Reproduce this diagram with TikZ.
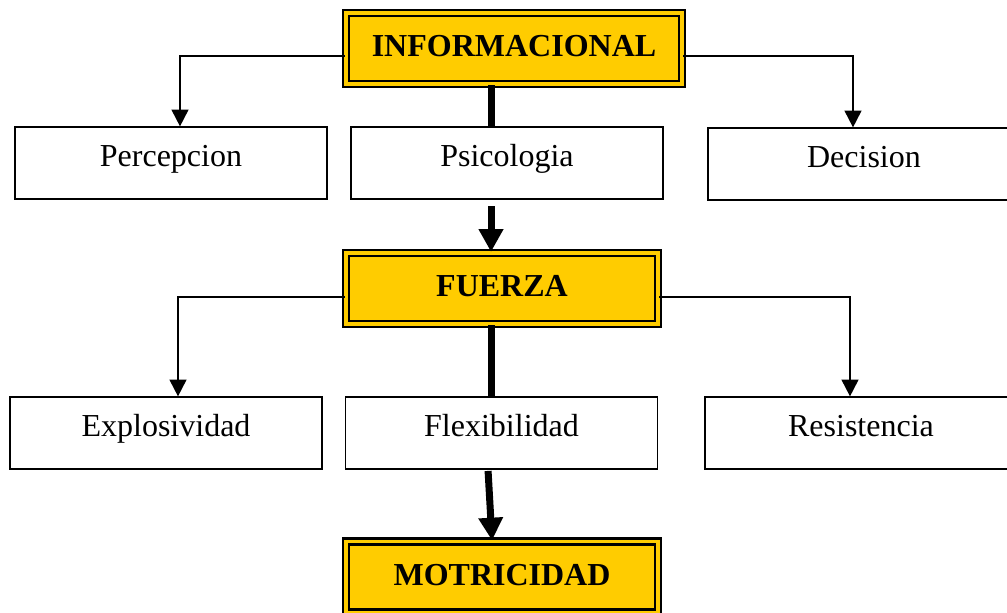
\documentclass[tikz,border=0pt]{standalone}
\usepackage{fontspec}
\setmainfont{Liberation Serif}
\usetikzlibrary{arrows.meta,calc}
\definecolor{signyellow}{HTML}{FFCC00}

\begin{document}
\begin{tikzpicture}[
        x = 0.75pt,
        y = -0.75pt,
        box/.style = {
                rectangle,
                draw,
                line width=1.4pt,
                minimum width=234pt,
                minimum height=53.5pt,
                font=\fontsize{24}{28}\selectfont,
                text height=16pt,
                text depth=10.5pt,
            },
        head/.style = {
                rectangle,
                draw,
                fill=signyellow,
                line width=1.7pt,
                double=signyellow,
                double distance=2.7pt,
                minimum height=53.25pt,
                font=\fontsize{24}{28}\selectfont\bfseries,
                text height=16pt,
                text depth=4pt,
            },
        branch/.style = {
                line width=1.4pt,
                -{Triangle[length=12.5pt,width=12.5pt]},
            },
        spine/.style = {
                line width=5.25pt,
            },
    ]
    \useasboundingbox (0,0) rectangle (1007,612);
    \clip (0,0) rectangle (1007,612);
    \node[head, minimum width=252pt] (info) at (514,48.5) {INFORMACIONAL};
    \node[head, minimum width=234pt] (fuerza) at (502,288.5) {FUERZA};
    \node[head, minimum width=234pt] (motri) at (502,577) {MOTRICIDAD};
    \foreach \name/\x/\y/\txt in {
            perc/171/163/Percepcion,
            psico/507/163/Psicologia,
            deci/864/164/Decision,
            explo/166/433/Explosividad,
            flexi/501.5/433/Flexibilidad,
            resis/861/433/Resistencia
        }
    \node[box] (\name) at (\x,\y) {\txt};
    % side branches
    \draw[branch] ($(info.west)+(0,7.5)$) -| ($(perc.north)+(9,0)$);
    \draw[branch] ($(info.east)+(0,7.5)$) -| ($(deci.north)+(-11,0)$);
    \draw[branch] ($(fuerza.west)+(0,8.5)$) -| ($(explo.north)+(12,0)$);
    \draw[branch] ($(fuerza.east)+(0,8.5)$) -| ($(resis.north)+(-11,0)$);
    % main line
    \coordinate (axis) at (491,0);
    \draw[spine] (info.south -| axis) -- (psico.north -| axis);
    \draw[spine, -{Triangle[length=17pt,width=17.5pt]}, shorten <=5pt]
    (psico.south -| axis) -- (fuerza.north -| axis);
    \draw[spine] (fuerza.south -| axis) -- (flexi.north -| axis);
    \draw[spine, -{Triangle[length=17pt,width=17.5pt]}, shorten <=1pt]
    ($(flexi.south -| axis)+(-3,0)$) -- ($(motri.north -| axis)+(1,0)$);
\end{tikzpicture}
\end{document}
